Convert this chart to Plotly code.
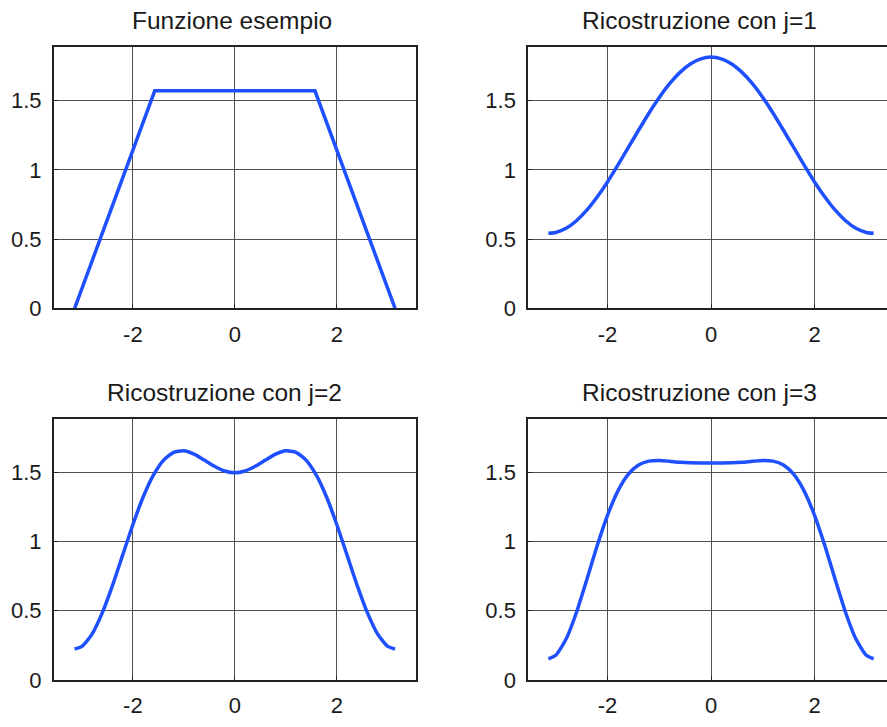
import plotly.graph_objects as go

# ---- data ----
x_example = [-3.1416, -1.5708, 1.5708, 3.1416]
y_example = [0.0, 1.5708, 1.5708, 0.0]

x_rec = [-3.1416, -3.0, -2.8, -2.6, -2.4, -2.2, -2.0, -1.8, -1.6, -1.4, -1.2, -1.0,
         -0.8, -0.6, -0.4, -0.2, 0.0, 0.2, 0.4, 0.6, 0.8, 1.0, 1.2, 1.4, 1.6, 1.8,
         2.0, 2.2, 2.4, 2.6, 2.8, 3.0, 3.1416]

y_j1 = [0.542, 0.548, 0.578, 0.633, 0.709, 0.804, 0.913, 1.034, 1.160, 1.286, 1.409, 1.522,
        1.622, 1.704, 1.765, 1.802, 1.815, 1.802, 1.765, 1.704, 1.622, 1.522, 1.409, 1.286,
        1.160, 1.034, 0.913, 0.804, 0.709, 0.633, 0.578, 0.548, 0.542]

y_j2 = [0.223, 0.242, 0.331, 0.484, 0.681, 0.901, 1.121, 1.319, 1.477, 1.586, 1.644, 1.655,
        1.631, 1.588, 1.543, 1.509, 1.496, 1.509, 1.543, 1.588, 1.631, 1.655, 1.644, 1.586,
        1.477, 1.319, 1.121, 0.901, 0.681, 0.484, 0.331, 0.242, 0.223]

y_j3 = [0.153, 0.178, 0.295, 0.487, 0.724, 0.969, 1.189, 1.364, 1.484, 1.552, 1.580, 1.585,
        1.579, 1.572, 1.568, 1.567, 1.567, 1.567, 1.568, 1.572, 1.579, 1.585, 1.580, 1.552,
        1.484, 1.364, 1.189, 0.969, 0.724, 0.487, 0.295, 0.178, 0.153]

titles = ["Funzione esempio", "Ricostruzione con j=1", "Ricostruzione con j=2", "Ricostruzione con j=3"]
x_tick_vals = [-2, 0, 2]
x_tick_text = ["-2", "0", "2"]
y_tick_vals = [0, 0.5, 1, 1.5]
y_tick_text = ["0", "0.5", "1", "1.5"]

# ---- layout geometry ----
W, H = 887, 727
FONT = "Liberation Sans, Arial, sans-serif"
LINE_COLOR = "#1f50ff"

def fx(px):
    return px / W

def fy(py):
    return 1 - py / H

panels = [
    # (x0px, x1px, y_top_px, y_bot_px, xrange, right_box)
    (54, 415.7, 48.3, 314, [-3.546, 3.546], True),
    (528.3, 887, 48.3, 314, [-3.53, 3.40], False),
    (54, 415.7, 426.7, 692.3, [-3.546, 3.546], True),
    (528.3, 887, 426.7, 692.3, [-3.53, 3.40], False),
]
series = [(x_example, y_example), (x_rec, y_j1), (x_rec, y_j2), (x_rec, y_j3)]
title_pos = [(232, 21), (699, 21), (224, 400), (699, 400)]

fig = go.Figure()
layout = dict(
    width=W, height=H,
    margin=dict(l=0, r=0, t=0, b=0),
    paper_bgcolor="white", plot_bgcolor="white",
    showlegend=False,
    font=dict(family=FONT, size=22, color="#1a1a1a"),
    annotations=[],
)

for i, ((x0, x1, yt, yb, xr, rbox), (xs, ys)) in enumerate(zip(panels, series)):
    n = i + 1
    xa = "x" if n == 1 else f"x{n}"
    ya = "y" if n == 1 else f"y{n}"
    fig.add_trace(go.Scatter(
        x=xs, y=ys, mode="lines", xaxis=xa, yaxis=ya,
        line=dict(color=LINE_COLOR, width=3.5, shape="spline" if i > 0 else "linear", smoothing=0.6),
        hoverinfo="skip",
    ))
    layout[f"xaxis{'' if n == 1 else n}"] = dict(
        domain=[fx(x0), fx(x1)], anchor=ya, range=xr,
        tickvals=x_tick_vals, ticktext=x_tick_text,
        showgrid=True, gridcolor="#505050", gridwidth=1,
        showline=True, linecolor="#222222", linewidth=2, mirror=True,
        ticks="inside", ticklen=4, tickcolor="#222222",
        zeroline=False, fixedrange=True, ticklabelstandoff=5,
    )
    layout[f"yaxis{'' if n == 1 else n}"] = dict(
        domain=[fy(yb), fy(yt)], anchor=xa, range=[0, 1.884],
        tickvals=y_tick_vals, ticktext=y_tick_text,
        showgrid=True, gridcolor="#505050", gridwidth=1,
        showline=True, linecolor="#222222", linewidth=2, mirror=rbox,
        ticks="inside", ticklen=4, tickcolor="#222222",
        zeroline=False, fixedrange=True, ticklabelstandoff=6,
    )
    tx, ty = title_pos[i]
    layout["annotations"].append(dict(
        text=titles[i], x=fx(tx), y=fy(ty), xref="paper", yref="paper",
        xanchor="center", yanchor="middle", showarrow=False,
        font=dict(family=FONT, size=24.5, color="#1a1a1a"),
    ))

fig.update_layout(**layout)
fig.write_html(
    "out.html",
    config={"displayModeBar": False, "staticPlot": True},
    post_script="document.body.style.margin='0px';document.body.style.overflow='hidden';",
)
